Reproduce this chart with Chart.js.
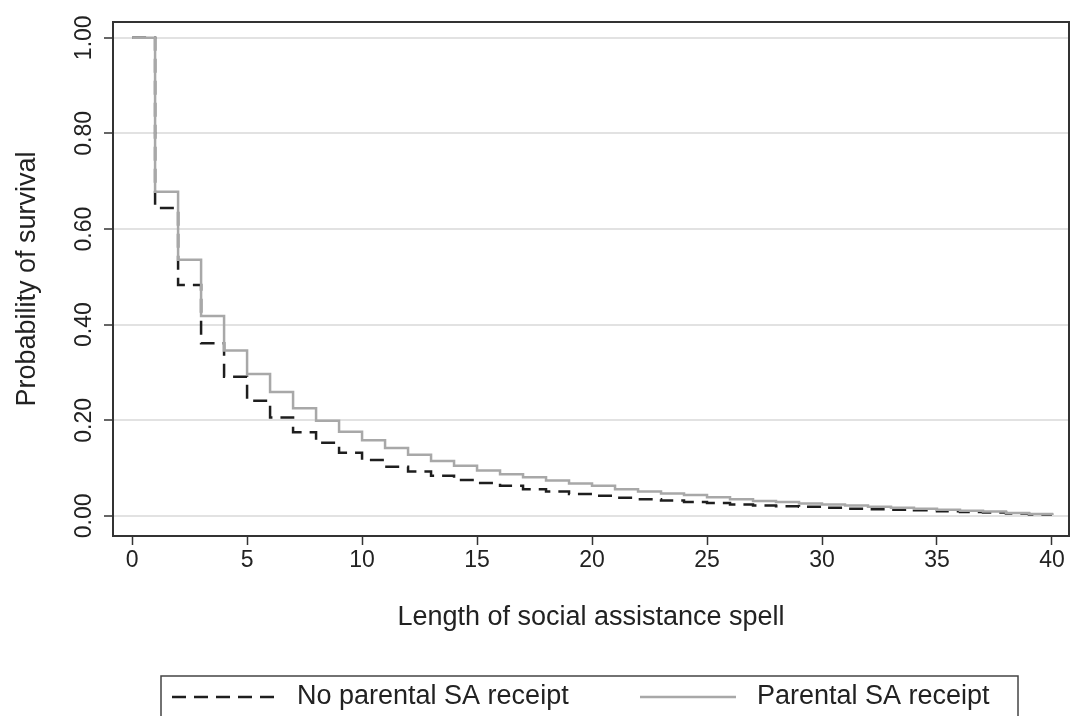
<!DOCTYPE html>
<html>
<head>
<meta charset="utf-8">
<script src="https://cdn.jsdelivr.net/npm/chart.js@4/dist/chart.umd.min.js"></script>
<style>
  html, body { margin: 0; padding: 0; background: #fff; }
  #wrap { width: 1071px; height: 716px; }
</style>
</head>
<body>
<div id="wrap"><canvas id="survival"></canvas></div>
<script>
// spell length (x) and survival probabilities
var spellLength = [0,1,2,3,4,5,6,7,8,9,10,11,12,13,14,15,16,17,18,19,20,
    21,22,23,24,25,26,27,28,29,30,31,32,33,34,35,36,37,38,39,40];

var noParental = [1.00, 0.644, 0.483, 0.361, 0.291, 0.241, 0.206, 0.175, 0.153, 0.132,
    0.117, 0.103, 0.093, 0.084, 0.075, 0.069, 0.063, 0.056, 0.051, 0.046,
    0.042, 0.038, 0.035, 0.032, 0.029, 0.027, 0.024, 0.022, 0.020, 0.019,
    0.017, 0.015, 0.014, 0.013, 0.012, 0.010, 0.008, 0.007, 0.005, 0.003, 0.002];

var parental = [1.00, 0.678, 0.536, 0.418, 0.346, 0.297, 0.259, 0.225, 0.199, 0.176,
    0.158, 0.142, 0.128, 0.115, 0.105, 0.095, 0.087, 0.081, 0.074, 0.068,
    0.063, 0.056, 0.051, 0.047, 0.044, 0.039, 0.035, 0.031, 0.029, 0.026,
    0.024, 0.022, 0.019, 0.017, 0.015, 0.013, 0.011, 0.009, 0.006, 0.004, 0.002];

var xTicks = [0, 5, 10, 15, 20, 25, 30, 35, 40];
var yTicks = [0, 0.2, 0.4, 0.6, 0.8, 1.0];

var seriesNames = ['No parental SA receipt', 'Parental SA receipt'];

var FONT = "'Liberation Sans', Arial, sans-serif";
var INK = '#222';

function toPoints(xs, ys) {
    var pts = [];
    for (var i = 0; i < xs.length; i++) pts.push({x: xs[i], y: ys[i]});
    return pts;
}

// frame round the plot region
var framePlugin = {
    id: 'frame',
    afterDatasetsDraw: function (chart) {
        var a = chart.chartArea, ctx = chart.ctx;
        ctx.save();
        ctx.strokeStyle = '#333';
        ctx.lineWidth = 2;
        ctx.strokeRect(a.left, a.top, a.right - a.left, a.bottom - a.top);
        ctx.restore();
    }
};

// boxed legend under the chart, like the original
var boxLegend = {
    id: 'boxLegend',
    afterDraw: function (chart) {
        var ctx = chart.ctx;
        var ds = chart.data.datasets;
        var top = 676, mid = 697;
        ctx.save();
        ctx.strokeStyle = '#444';
        ctx.lineWidth = 1.5;
        ctx.strokeRect(161, top, 857, 60);

        var items = [
            {d: ds[0], x0: 172, x1: 280, tx: 297},
            {d: ds[1], x0: 640, x1: 736, tx: 757}
        ];
        items.forEach(function (it) {
            ctx.beginPath();
            ctx.setLineDash(it.d.borderDash || []);
            ctx.strokeStyle = it.d.borderColor;
            ctx.lineWidth = it.d.borderWidth;
            ctx.moveTo(it.x0, mid);
            ctx.lineTo(it.x1, mid);
            ctx.stroke();
            ctx.setLineDash([]);
            ctx.fillStyle = INK;
            ctx.font = '27px ' + FONT;
            ctx.textBaseline = 'middle';
            ctx.textAlign = 'left';
            ctx.fillText(it.d.label, it.tx, mid);
        });
        ctx.restore();
    }
};

var ctx = document.getElementById('survival').getContext('2d');

var conf = {
    type: 'line',
    data: {
        datasets: [{
            label: seriesNames[0],
            data: toPoints(spellLength, noParental),
            borderColor: '#1e1e1e',
            borderWidth: 2.5,
            borderDash: [14, 8],
            stepped: true,
            pointRadius: 0,
            fill: false,
            order: 2
        }, {
            label: seriesNames[1],
            data: toPoints(spellLength, parental),
            borderColor: '#a8a8a8',
            borderWidth: 2.5,
            stepped: true,
            pointRadius: 0,
            fill: false,
            order: 1
        }]
    },
    options: {
        responsive: true,
        maintainAspectRatio: false,
        animation: false,
        layout: {
            padding: {left: 0, top: 22, right: 2, bottom: 80}
        },
        plugins: {
            legend: {display: false},
            tooltip: {enabled: false}
        },
        scales: {
            x: {
                type: 'linear',
                min: -0.83,
                max: 40.74,
                afterBuildTicks: function (scale) {
                    scale.ticks = xTicks.map(function (v) { return {value: v}; });
                },
                afterFit: function (scale) { scale.height = 100; },
                grid: {
                    drawOnChartArea: false,
                    drawTicks: true,
                    tickLength: 9,
                    tickColor: '#333',
                    tickWidth: 1.5
                },
                border: {display: true, color: '#333', width: 2},
                ticks: {
                    color: INK,
                    font: {family: FONT, size: 23},
                    padding: 2,
                    maxRotation: 0,
                    autoSkip: false
                },
                title: {
                    display: true,
                    text: 'Length of social assistance spell',
                    color: INK,
                    font: {family: FONT, size: 27},
                    padding: {top: 0, bottom: 2}
                }
            },
            y: {
                type: 'linear',
                min: -0.042,
                max: 1.033,
                afterBuildTicks: function (scale) {
                    scale.ticks = yTicks.map(function (v) { return {value: v}; });
                },
                afterFit: function (scale) { scale.width = 113; },
                grid: {
                    color: '#e2e2e2',
                    lineWidth: 2,
                    drawTicks: true,
                    tickLength: 9,
                    tickColor: '#333',
                    tickWidth: 1.5
                },
                border: {display: true, color: '#333', width: 2},
                ticks: {
                    color: INK,
                    font: {family: FONT, size: 23},
                    minRotation: 90,
                    maxRotation: 90,
                    crossAlign: 'center',
                    padding: -3,
                    autoSkip: false,
                    callback: function (v) { return Number(v).toFixed(2); }
                },
                title: {
                    display: true,
                    text: 'Probability of survival',
                    color: INK,
                    font: {family: FONT, size: 27},
                    padding: {top: 11, bottom: 0}
                }
            }
        }
    },
    plugins: [framePlugin, boxLegend]
};

window.survivalChart = new Chart(ctx, conf);
</script>
</body>
</html>
